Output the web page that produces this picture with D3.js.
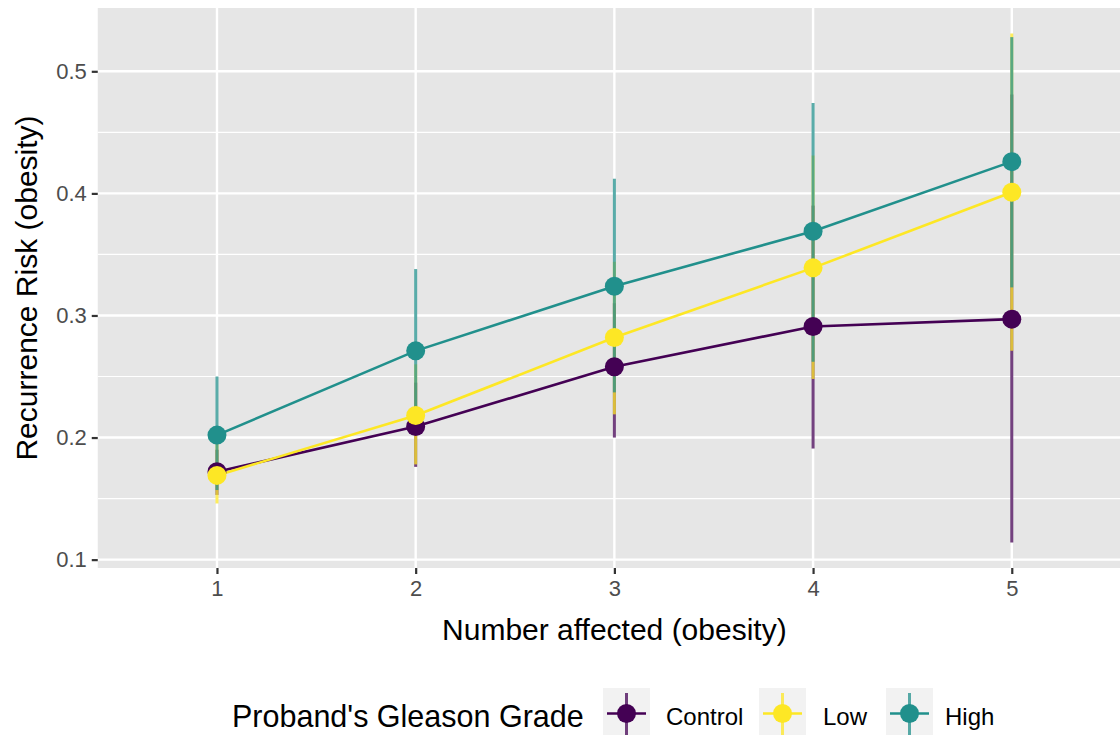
<!DOCTYPE html>
<html>
<head>
<meta charset="utf-8">
<script src="https://cdn.jsdelivr.net/npm/d3@7"></script>
<style>
  html, body { margin: 0; padding: 0; background: #fff; }
  svg { display: block; font-family: "Liberation Sans", Arial, sans-serif; }
</style>
</head>
<body>
<svg id="chart" width="1120" height="736"></svg>
<script>
// Recurrence risk by number of affected relatives, per proband grade group
const numberAffected = ["1", "2", "3", "4", "5"];
const groups = ["Control", "Low", "High"];
const groupColors = ["#440154", "#FDE725", "#21908C"];

const controlRisk  = [0.172, 0.209, 0.258, 0.291, 0.297];
const controlLower = [0.153, 0.176, 0.200, 0.191, 0.114];
const controlUpper = [0.190, 0.245, 0.310, 0.390, 0.481];

const lowRisk  = [0.169, 0.218, 0.282, 0.339, 0.401];
const lowLower = [0.146, 0.178, 0.219, 0.248, 0.271];
const lowUpper = [0.195, 0.260, 0.344, 0.431, 0.531];

const highRisk  = [0.202, 0.271, 0.324, 0.369, 0.426];
const highLower = [0.157, 0.203, 0.237, 0.262, 0.323];
const highUpper = [0.250, 0.338, 0.412, 0.474, 0.528];

const yTicks = [0.1, 0.2, 0.3, 0.4, 0.5];
const yMinor = [0.15, 0.25, 0.35, 0.45];

const seriesRisk  = [controlRisk, lowRisk, highRisk];
const seriesLower = [controlLower, lowLower, highLower];
const seriesUpper = [controlUpper, lowUpper, highUpper];

const series = groups.map((g, i) => ({
  name: g,
  color: groupColors[i],
  points: numberAffected.map((n, j) => ({
    n, risk: seriesRisk[i][j], lo: seriesLower[i][j], hi: seriesUpper[i][j]
  }))
}));

const svg = d3.select("#chart");
const panel = { left: 97.75, right: 1131, top: 8, bottom: 568 };

// ggplot-like expansion: discrete x padded by 0.6, continuous y by 5%
const x = d3.scalePoint().domain(numberAffected)
  .range([panel.left, panel.right]).padding(0.6);

const allVals = [].concat(...seriesLower, ...seriesUpper);
const yLo = d3.min(allVals), yHi = d3.max(allVals);
const pad = (yHi - yLo) * 0.05;
const y = d3.scaleLinear().domain([yLo - pad, yHi + pad])
  .range([panel.bottom, panel.top]);

// Panel background and grid
svg.append("rect")
  .attr("x", panel.left).attr("y", panel.top)
  .attr("width", panel.right - panel.left).attr("height", panel.bottom - panel.top)
  .attr("fill", "#E6E6E6");

const grid = svg.append("g");
grid.selectAll(".minor").data(yMinor).join("line")
  .attr("x1", panel.left).attr("x2", panel.right)
  .attr("y1", d => y(d)).attr("y2", d => y(d))
  .attr("stroke", "#fff").attr("stroke-width", 1.2);
grid.selectAll(".majY").data(yTicks).join("line")
  .attr("x1", panel.left).attr("x2", panel.right)
  .attr("y1", d => y(d)).attr("y2", d => y(d))
  .attr("stroke", "#fff").attr("stroke-width", 2.4);
grid.selectAll(".majX").data(numberAffected).join("line")
  .attr("x1", d => x(d)).attr("x2", d => x(d))
  .attr("y1", panel.top).attr("y2", panel.bottom)
  .attr("stroke", "#fff").attr("stroke-width", 2.4);

// Axes
const yAxis = svg.append("g")
  .attr("transform", `translate(${panel.left},0)`)
  .call(d3.axisLeft(y).tickValues(yTicks).tickFormat(d3.format(".1f")).tickSize(6).tickPadding(5));
const xAxis = svg.append("g")
  .attr("transform", `translate(0,${panel.bottom})`)
  .call(d3.axisBottom(x).tickSize(6).tickPadding(6));
[yAxis, xAxis].forEach(a => {
  a.select(".domain").remove();
  a.selectAll(".tick line").attr("stroke", "#333333").attr("stroke-width", 2.2);
  a.selectAll(".tick text").attr("fill", "#4D4D4D")
    .style("font-size", "22px").style("font-family", "Liberation Sans, Arial, sans-serif");
});

// Axis titles
svg.append("text")
  .attr("x", (panel.left + panel.right) / 2).attr("y", 640)
  .attr("text-anchor", "middle").attr("fill", "#000")
  .style("font-size", "30px").text("Number affected (obesity)");
svg.append("text")
  .attr("transform", `translate(37,${(panel.top + panel.bottom) / 2}) rotate(-90)`)
  .attr("text-anchor", "middle").attr("fill", "#000")
  .style("font-size", "30px").text("Recurrence Risk (obesity)");

// Error bars
const plot = svg.append("g");
series.forEach(s => {
  plot.append("g").selectAll("line").data(s.points).join("line")
    .attr("x1", d => x(d.n)).attr("x2", d => x(d.n))
    .attr("y1", d => y(d.lo)).attr("y2", d => y(d.hi))
    .attr("stroke", s.color).attr("stroke-width", 3).attr("stroke-opacity", 0.75);
});

// Lines
const line = d3.line().x(d => x(d.n)).y(d => y(d.risk));
series.forEach(s => {
  plot.append("path").datum(s.points)
    .attr("d", line).attr("fill", "none")
    .attr("stroke", s.color).attr("stroke-width", 2.6);
});

// Points
series.forEach(s => {
  plot.append("g").selectAll("circle").data(s.points).join("circle")
    .attr("cx", d => x(d.n)).attr("cy", d => y(d.risk)).attr("r", 9.5)
    .attr("fill", s.color);
});

// Legend
const legend = svg.append("g");
legend.append("text")
  .attr("x", 232).attr("y", 727).attr("fill", "#000")
  .style("font-size", "30.5px").text("Proband's Gleason Grade");

const keyX = [603, 759, 886];
const labelX = [666, 823, 945];
const keySize = 47, keyTop = 688;
groups.forEach((g, i) => {
  const k = legend.append("g").attr("transform", `translate(${keyX[i]},${keyTop})`);
  const cx = keySize / 2, cy = keySize / 2 + 2;
  k.append("rect").attr("width", keySize).attr("height", keySize).attr("fill", "#F2F2F2");
  k.append("line").attr("x1", cx).attr("x2", cx).attr("y1", 5).attr("y2", keySize)
    .attr("stroke", groupColors[i]).attr("stroke-width", 3).attr("stroke-opacity", 0.75);
  k.append("line").attr("x1", 4).attr("x2", keySize - 4).attr("y1", cy).attr("y2", cy)
    .attr("stroke", groupColors[i]).attr("stroke-width", 2.6);
  k.append("circle").attr("cx", cx).attr("cy", cy).attr("r", 9.5).attr("fill", groupColors[i]);
  legend.append("text")
    .attr("x", labelX[i]).attr("y", 725).attr("fill", "#000")
    .style("font-size", "24px").text(g);
});
</script>
</body>
</html>
